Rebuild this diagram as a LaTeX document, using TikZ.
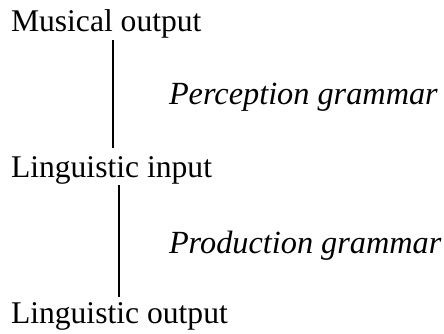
\documentclass[tikz,border=0pt]{standalone}
\usepackage{fontspec}
\setmainfont{Liberation Serif}
\begin{document}
\begin{tikzpicture}[x=1pt,y=1pt,
  lab/.style={anchor=base west,inner sep=0pt,outer sep=0pt,font=\fontsize{31.6}{36}\selectfont},
  glab/.style={anchor=base west,inner sep=0pt,outer sep=0pt,font=\fontsize{32.3}{36}\selectfont\itshape},
  conn/.style={line width=1.5pt}]
\useasboundingbox (0,0) rectangle (444,-334);
\node[lab] (mo) at (11,-32) {Musical output};
\node[glab] (pg) at (169,-105) {Perception grammar};
\node[lab] (li) at (11,-177.5) {Linguistic input};
\node[glab] (prg) at (169,-253) {Production grammar};
\node[lab] (lo) at (11,-323) {Linguistic output};
\coordinate (x1) at (113,0);
\coordinate (x2) at (119,0);
\draw[conn,shorten <=1.5pt,shorten >=9pt] (mo.south -| x1) -- (li.north -| x1);
\draw[conn,shorten <=1pt,shorten >=5.5pt] (li.south -| x2) -- (lo.north -| x2);
\end{tikzpicture}
\end{document}
